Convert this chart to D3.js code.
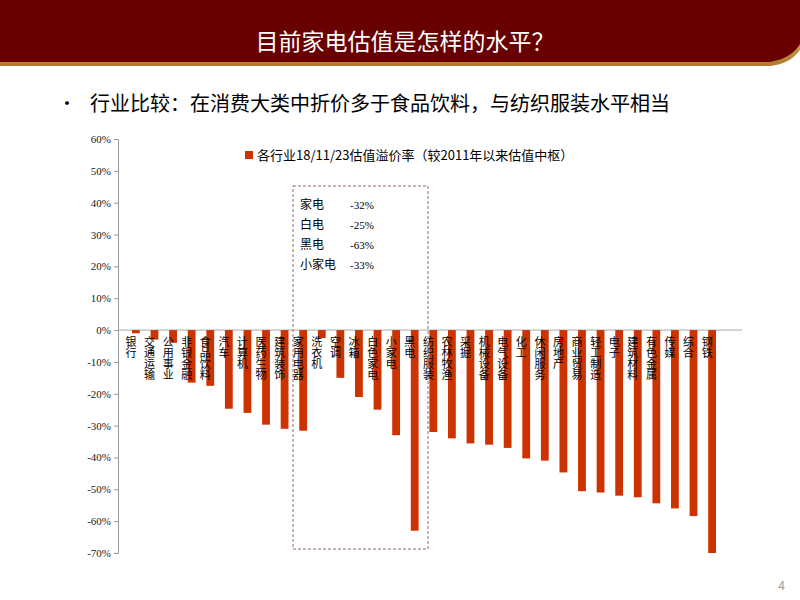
<!DOCTYPE html><html><head><meta charset="utf-8">
<script src="https://cdn.jsdelivr.net/npm/d3@7"></script>
<style>body{margin:0;background:#fff}svg{display:block;font-family:"Noto Sans CJK SC",sans-serif}</style></head><body>
<script>
const categories=["银行","交通运输","公用事业","非银金融","食品饮料","汽车","计算机","医药生物","建筑装饰","家用电器","洗衣机","空调","冰箱","白色家电","小家电","黑电","纺织服装","农林牧渔","采掘","机械设备","电气设备","化工","休闲服务","房地产","商业贸易","轻工制造","电子","建筑材料","有色金属","传媒","综合","钢铁"];
const values=[-1,-3,-4,-16.5,-17.5,-24.7,-26,-29.7,-31,-31.6,-2.5,-15,-21,-25,-33,-63,-32,-34,-35.6,-36,-37,-40.3,-41,-44.7,-50.6,-51,-52,-52.5,-54.4,-56,-58.4,-70];
const yTicks=[60,50,40,30,20,10,0,-10,-20,-30,-40,-50,-60,-70];
const boxNames=["家电","白电","黑电","小家电"], boxVals=["-32%","-25%","-63%","-33%"];
const legendText="各行业18/11/23估值溢价率（较2011年以来估值中枢）";

const svg=d3.select("body").append("svg").attr("width",800).attr("height",600);
const defs=svg.append("defs");
const g1=defs.append("linearGradient").attr("id","gold").attr("x1",0).attr("x2",0).attr("y1",0).attr("y2",1);
g1.append("stop").attr("offset",0).attr("stop-color","#f6d9a0");g1.append("stop").attr("offset",1).attr("stop-color","#b07a2a");
svg.append("path").attr("d","M0,0H800V50Q790,64 770,66H0Z").attr("fill","url(#gold)");
svg.append("path").attr("d","M0,0H800V44Q792,58 770,62H0Z").attr("fill","#680000");
svg.append("text").attr("x",405).attr("y",50).attr("text-anchor","middle").attr("fill","#fff").attr("font-size",23).style("font-family","'Noto Sans CJK SC'").text("目前家电估值是怎样的水平？");
svg.append("text").attr("x",58).attr("y",110).attr("font-size",18).text("•");
svg.append("text").attr("x",90).attr("y",111).attr("font-size",20).text("行业比较：在消费大类中折价多于食品饮料，与纺织服装水平相当");
svg.append("text").attr("x",785).attr("y",590).attr("font-size",12).attr("fill","#999").attr("text-anchor","end").text("4");

const y=d3.scaleLinear().domain([-70,60]).range([553,139]);
const x=d3.scaleBand().domain(categories).range([132,716]).paddingInner(0.58).paddingOuter(0);
const ax=svg.append("g").attr("transform","translate(118,0)").call(d3.axisLeft(y).tickValues(yTicks).tickSize(4).tickFormat(d=>d+"%"));
ax.select(".domain").attr("stroke","#999");ax.selectAll(".tick line").attr("stroke","#999");
ax.selectAll("text").attr("font-size",11).attr("fill","#222").style("font-family","'Liberation Serif',serif");
svg.append("line").attr("x1",118).attr("x2",742).attr("y1",y(0)).attr("y2",y(0)).attr("stroke","#aaa");
svg.selectAll(".bar").data(values).join("rect").attr("x",(d,i)=>x(categories[i])).attr("width",x.bandwidth())
 .attr("y",y(0)).attr("height",d=>y(d)-y(0)).attr("fill","#cc3300");
svg.selectAll(".lab").data(categories).join("text").attr("x",d=>x(d)-1).attr("y",y(0)+6)
 .attr("font-size",11).attr("fill","#000").style("writing-mode","vertical-rl").text(d=>d);
svg.append("rect").attr("x",245).attr("y",151).attr("width",8).attr("height",8).attr("fill","#cc3300");
svg.append("text").attr("x",257).attr("y",160).attr("font-size",13).text(legendText);
svg.append("rect").attr("x",293).attr("y",186).attr("width",135).attr("height",363).attr("fill","none").attr("stroke","#8a6a6a").attr("stroke-dasharray","3,2");
boxNames.forEach((n,i)=>{
 svg.append("text").attr("x",300).attr("y",209+i*20).attr("font-size",12).text(n);
 svg.append("text").attr("x",350).attr("y",209+i*20).attr("font-size",11).style("font-family","'Liberation Serif',serif").text(boxVals[i]);
});
</script></body></html>
